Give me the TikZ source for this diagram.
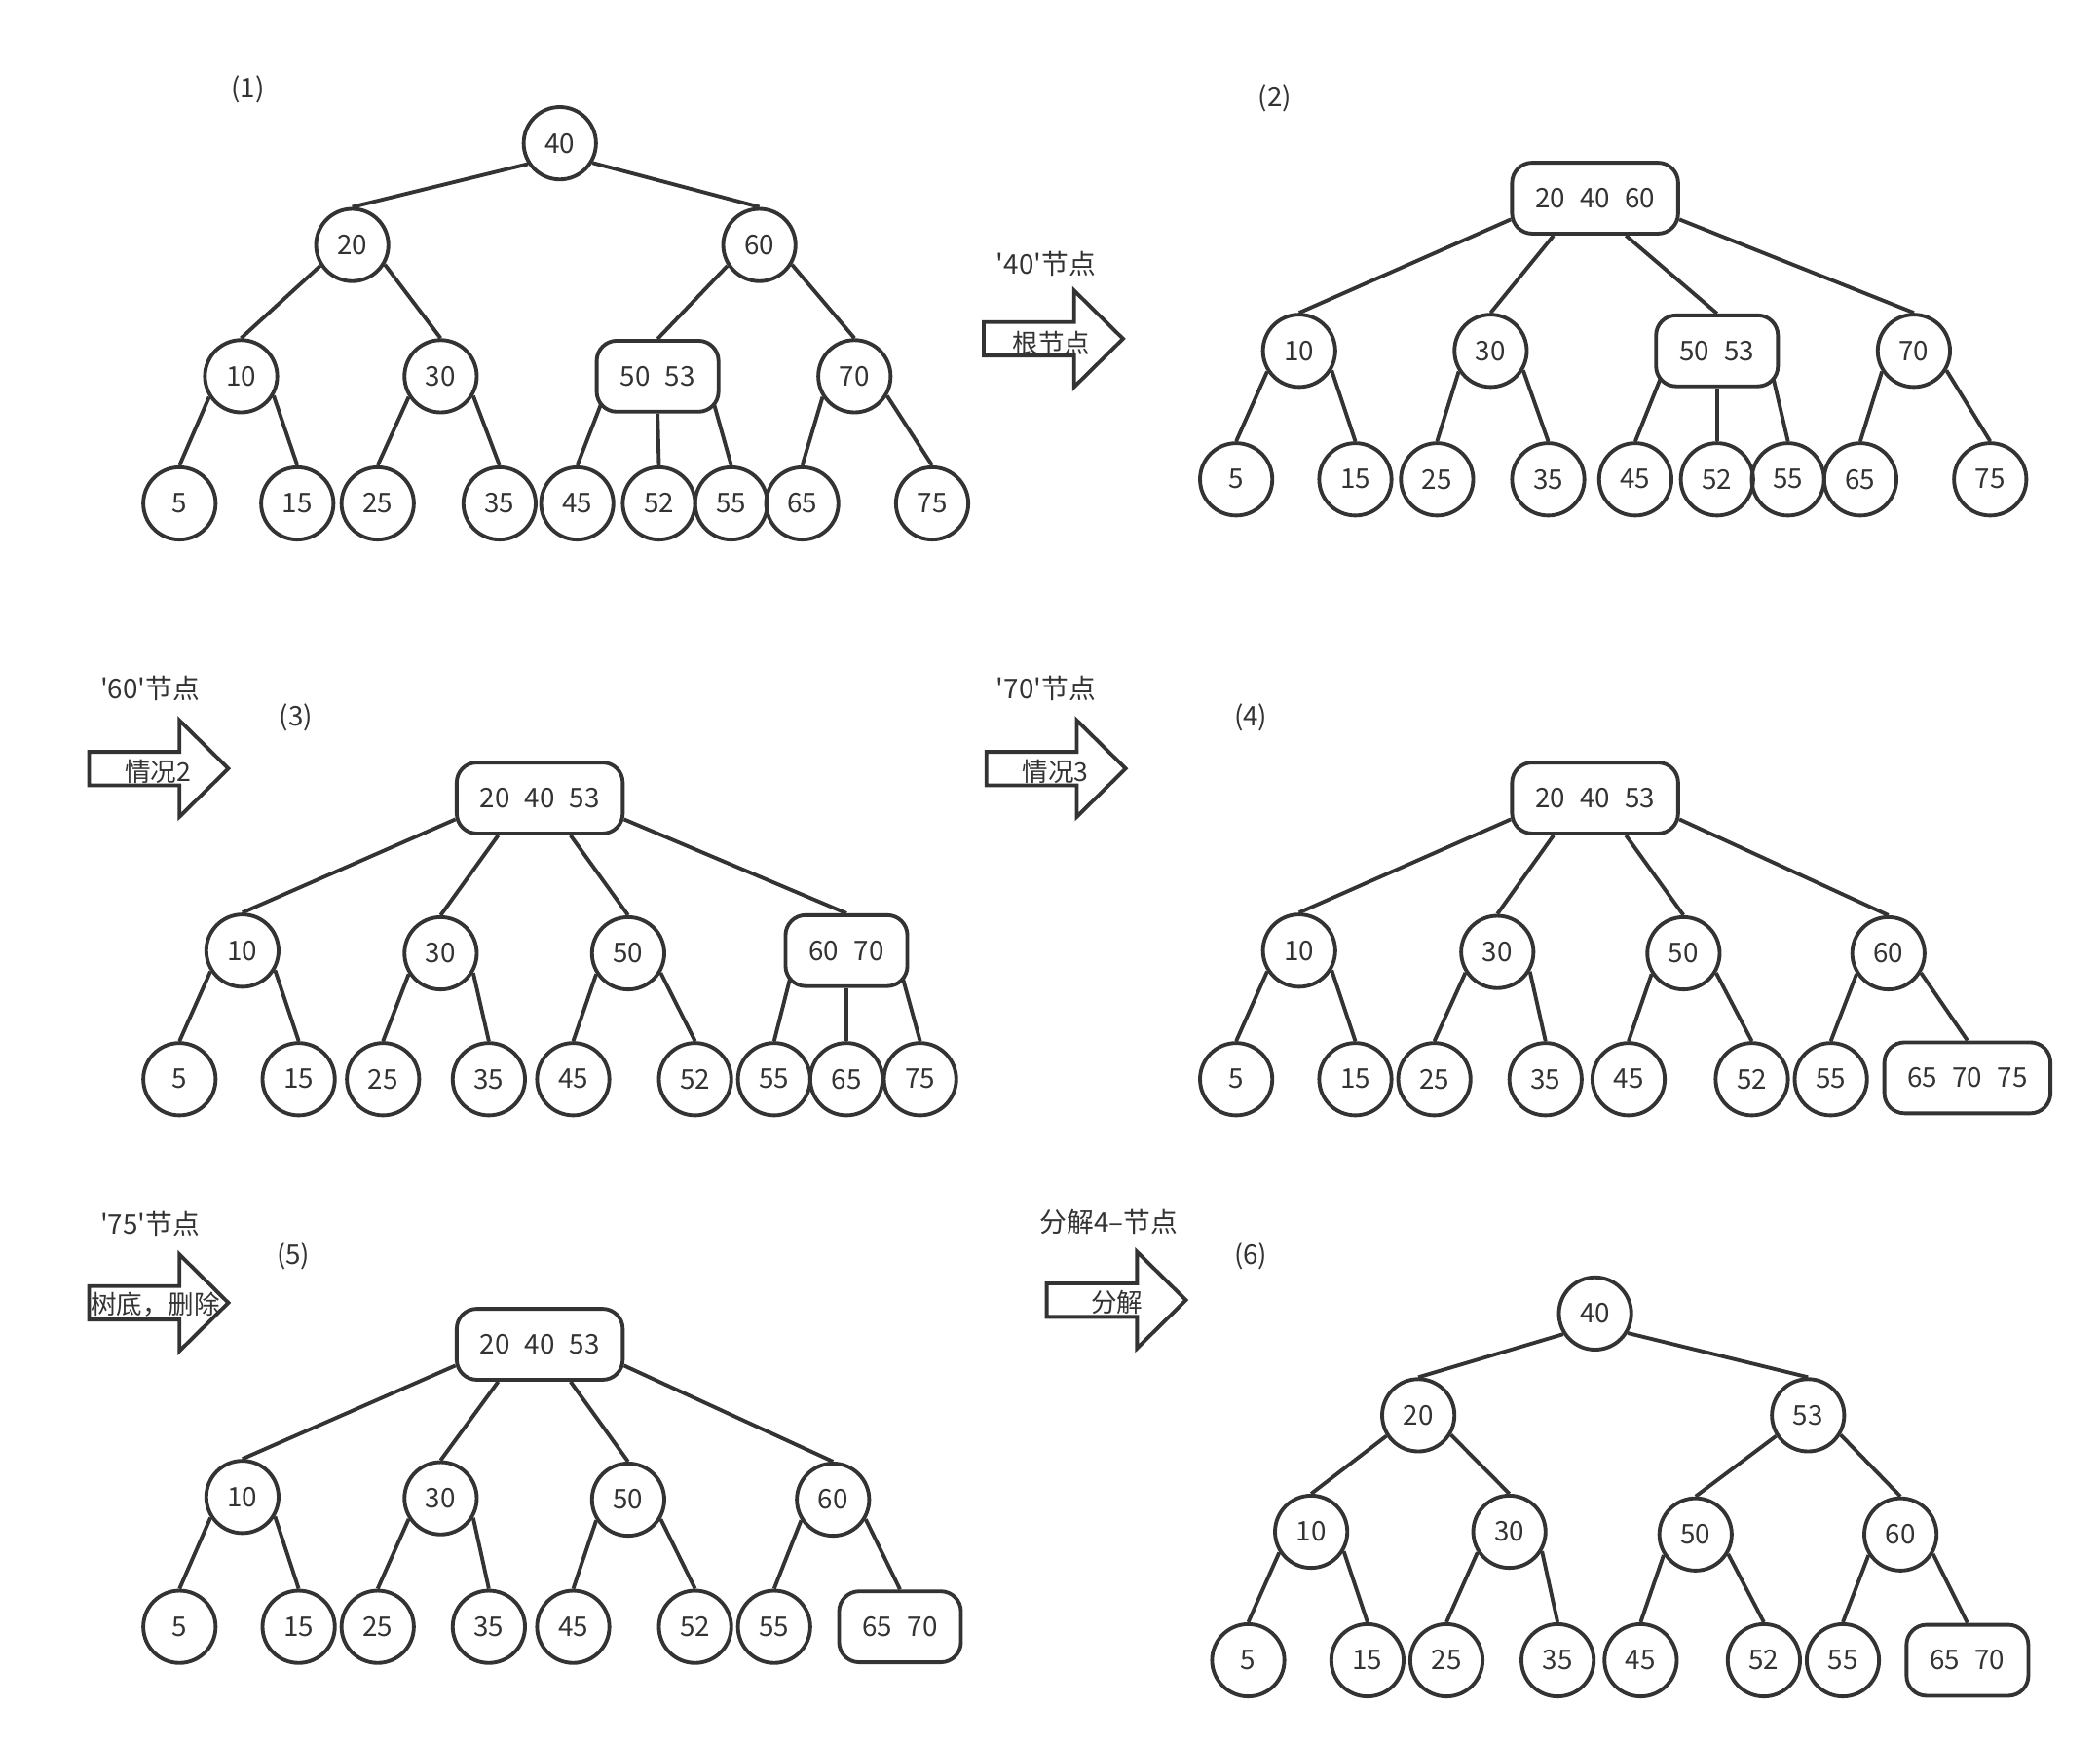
\documentclass[tikz,border=0pt]{standalone}
\usepackage{fontspec}
\newfontfamily\cjk{Noto Sans CJK SC}
\usetikzlibrary{positioning, calc}
\definecolor{ink}{HTML}{333333}
\newcommand{\kgap}{\hspace{0.55em}}

\begin{document}
\begin{tikzpicture}[
    x=0.02cm, y=-0.02cm,
    every node/.style={font=\cjk\fontsize{11.5}{14}\selectfont, text=ink},
    key/.style={circle, draw=ink, line width=1.6pt, minimum size=1.08cm, inner sep=0pt},
    keys/.style={rectangle, draw=ink, line width=1.6pt, rounded corners=0.3cm, minimum height=1.06cm, minimum width=1.82cm, inner sep=0pt},
    wide/.style={keys, minimum width=2.48cm},
    link/.style={draw=ink, line width=1.6pt},
    small/.style={font=\cjk\fontsize{11}{13}\selectfont},
    fatarrow/.pic={\draw[ink, line width=1.6pt] (-52,-12.5) -- (15.5,-12.5) -- (15.5,-36) -- (52,0) -- (15.5,36) -- (15.5,12.5) -- (-52,12.5) -- cycle;}
]
    \useasboundingbox (0,0) rectangle (1568,1302);

    % (1)
    \node (lab1) at (185,67) {(1)};
    \node (a40) [key] at (418,107) {40};
    \node (a20) [key] at (263,183) {20};
    \node (a60) [key] at (567,183) {60};
    \node (a10) [key] at (180,281) {10};
    \node (a30) [key] at (329,281) {30};
    \node (a5053) [keys] at (491,281) {50\kgap53};
    \node (a70) [key] at (638,281) {70};
    \foreach \k/\x in {5/134, 15/222, 25/282, 35/373, 45/431, 52/492, 55/546, 65/599, 75/696}
        \node (a\k) [key] at (\x,376) {\k};

    % (2)
    \node (lab2) at (952,73) {(2)};
    \node (broot) [wide] at (1191,148) {20\kgap40\kgap60};
    \node (b10) [key] at (970,262) {10};
    \node (b30) [key] at (1113,262) {30};
    \node (b5053) [keys] at (1282,262) {50\kgap53};
    \node (b70) [key] at (1429,262) {70};
    \foreach \k/\x in {5/923, 15/1012, 25/1073, 35/1156, 45/1221, 52/1282, 55/1335, 65/1389, 75/1486}
        \node (b\k) [key] at (\x,358) {\k};

    % 1 -> 2
    \node (say1) at (781,197) {'40'节点};
    \pic at (786.5,253) {fatarrow};
    \node (do1) [small] at (785,256) {根节点};

    % (3)
    \node (say2) at (112,514) {'60'节点};
    \pic at (118.5,574) {fatarrow};
    \node (do2) [small] at (118,576) {情况2};
    \node (lab3) at (221,536) {(3)};
    \node (croot) [wide] at (403,596) {20\kgap40\kgap53};
    \node (c10) [key] at (181,710) {10};
    \node (c30) [key] at (329,712) {30};
    \node (c50) [key] at (469,712) {50};
    \node (c6070) [keys] at (632,710) {60\kgap70};
    \foreach \k/\x in {5/134, 15/223, 25/286, 35/365, 45/428, 52/519, 55/578, 65/632, 75/687}
        \node (c\k) [key] at (\x,806) {\k};

    % (4)
    \node (say3) at (781,514) {'70'节点};
    \pic at (788.5,574) {fatarrow};
    \node (do3) [small] at (788,576) {情况3};
    \node (lab4) at (934,536) {(4)};
    \node (droot) [wide] at (1191,596) {20\kgap40\kgap53};
    \node (d10) [key] at (970,710) {10};
    \node (d30) [key] at (1118,711) {30};
    \node (d50) [key] at (1257,712) {50};
    \node (d60) [key] at (1410,712) {60};
    \foreach \k/\x in {5/923, 15/1012, 25/1071, 35/1154, 45/1216, 52/1308, 55/1367}
        \node (d\k) [key] at (\x,806) {\k};
    \node (d657075) [wide] at (1469,805) {65\kgap70\kgap75};

    % (5)
    \node (say4) at (112,914) {'75'节点};
    \pic at (118.5,973) {fatarrow};
    \node (do4) [small] at (116,974) {树底，删除};
    \node (lab5) at (219,938) {(5)};
    \node (eroot) [wide] at (403,1004) {20\kgap40\kgap53};
    \node (e10) [key] at (181,1118) {10};
    \node (e30) [key] at (329,1119) {30};
    \node (e50) [key] at (469,1120) {50};
    \node (e60) [key] at (622,1120) {60};
    \foreach \k/\x in {5/134, 15/223, 25/282, 35/365, 45/428, 52/519, 55/578}
        \node (e\k) [key] at (\x,1215) {\k};
    \node (e6570) [keys] at (672,1215) {65\kgap70};

    % (6)
    \node (say5) at (828,913) {分解4–节点};
    \pic at (833.5,971) {fatarrow};
    \node (do5) [small] at (834,973) {分解};
    \node (lab6) at (934,938) {(6)};
    \node (f40) [key] at (1191,981) {40};
    \node (f20) [key] at (1059,1057) {20};
    \node (f53) [key] at (1350,1057) {53};
    \node (f10) [key] at (979,1144) {10};
    \node (f30) [key] at (1127,1144) {30};
    \node (f50) [key] at (1266,1146) {50};
    \node (f60) [key] at (1419,1146) {60};
    \foreach \k/\x in {5/932, 15/1021, 25/1080, 35/1163, 45/1225, 52/1317, 55/1376}
        \node (f\k) [key] at (\x,1240) {\k};
    \node (f6570) [keys] at (1469,1240) {65\kgap70};

    % links: left children, right children
    \foreach \p/\c in {a40/a20, a20/a10, a60/a5053, a10/a5, a30/a25, a70/a65,
                       b10/b5, b30/b25, b70/b65,
                       c10/c5, c30/c25, c50/c45,
                       d10/d5, d30/d25, d50/d45, d60/d55,
                       e10/e5, e30/e25, e50/e45, e60/e55,
                       f40/f20, f20/f10, f53/f50, f10/f5, f30/f25, f50/f45, f60/f55}
        \draw[link] (\p.213) -- (\c.north);
    \foreach \p/\c in {a40/a60, a20/a30, a60/a70, a10/a15, a30/a35, a70/a75,
                       b10/b15, b30/b35, b70/b75,
                       c10/c15, c30/c35, c50/c52,
                       d10/d15, d30/d35, d50/d52, d60/d657075,
                       e10/e15, e30/e35, e50/e52, e60/e6570,
                       f40/f53, f20/f30, f53/f60, f10/f15, f30/f35, f50/f52, f60/f6570}
        \draw[link] (\p.-31) -- (\c.north);

    % two-key nodes with three children
    \foreach \b/\l/\m/\r in {a5053/a45/a52/a55, b5053/b45/b52/b55, c6070/c55/c65/c75} {
        \draw[link] ([shift={(0.1cm,0.16cm)}]\b.south west) -- (\l.north);
        \draw[link] (\b.south) -- (\m.north);
        \draw[link] ([shift={(-0.1cm,0.16cm)}]\b.south east) -- (\r.north);
    }

    % three-key roots with four children
    \foreach \t/\w/\x/\y/\z in {broot/b10/b30/b5053/b70, croot/c10/c30/c50/c6070,
                                droot/d10/d30/d50/d60, eroot/e10/e30/e50/e60} {
        \draw[link] ([shift={(0.01cm,0.24cm)}]\t.south west) -- (\w.north);
        \draw[link] ([xshift=-0.62cm]\t.south) -- (\x.north);
        \draw[link] ([xshift=0.46cm]\t.south) -- (\y.north);
        \draw[link] ([shift={(-0.01cm,0.24cm)}]\t.south east) -- (\z.north);
    }
\end{tikzpicture}
\end{document}
